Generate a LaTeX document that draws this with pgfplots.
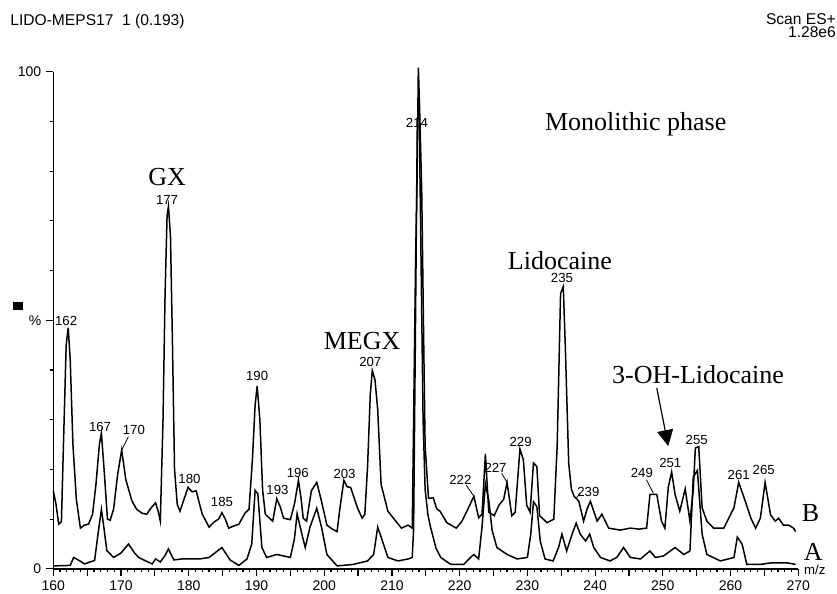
\documentclass[border=0pt]{standalone}
\usepackage{fontspec}
\setmainfont{Liberation Sans}
\newfontfamily\annotfont{Liberation Serif}
\usepackage{pgfplots}
\pgfplotsset{compat=1.18}
\usetikzlibrary{arrows.meta}
\begin{document}
\begin{tikzpicture}[
  pk/.style={font=\fontsize{6.6}{7}\selectfont, inner sep=0pt},
  big/.style={font=\annotfont\fontsize{13}{14}\selectfont, inner sep=0pt},
  lead/.style={line width=0.4pt},
  trace/.style={black, line width=0.75pt, no markers},
]
\begin{axis}[
  name=ax,
  scale only axis,
  width=372.5pt, height=248.6pt,
  xmin=160, xmax=270, ymin=0, ymax=100,
  clip=false,
  axis x line*=bottom, axis y line*=left,
  axis line style={line width=0.75pt},
  tick align=outside,
  xtick={160,170,...,270},
  extra x ticks={165,175,...,265},
  extra x tick labels={},
  minor x tick num=9,
  ytick={0,50,100},
  yticklabels={0,\%,100},
  minor y tick num=4,
  major tick length=3.5pt, minor tick length=1.8pt,
  tick style={black, line width=0.6pt},
  ticklabel style={font=\fontsize{7}{8}\selectfont},
  xticklabel style={yshift=1pt},
  yticklabel style={xshift=1pt},
  /pgf/number format/assume math mode=true,
  /pgf/number format/1000 sep={},
]
% trace B
\addplot[trace] coordinates {
(160,15.7) (160.4,13) (160.8,9) (161.2,9.5) (161.5,25) (161.9,45) (162.2,48.5) (162.5,42) (162.9,25) (163.4,14) (164,8.2) (164.6,8.8) (165.2,9) (165.8,11) (166.3,17) (166.8,25) (167.1,27.3) (167.5,20) (168,10) (168.4,9.8) (168.9,12) (169.5,19) (170.1,23.9) (170.7,18) (171.6,13.7) (172.3,12) (173.1,11.2) (173.8,11) (174.4,12.2) (175.1,13.3) (175.5,11.5) (175.8,9.6) (176.2,30) (176.5,55) (176.8,71) (177.0,72.9) (177.3,67) (177.6,45) (177.9,20) (178.3,13) (178.7,11.6) (179.3,14) (179.9,16.4) (180.5,15.5) (181.1,15.7) (181.6,13) (182,11) (183,8.4) (183.8,9.5) (184.4,10) (184.9,11.3) (185.4,10) (185.9,8.2) (186.6,8.6) (187.4,9.0) (188.3,11.2) (188.9,12) (189.4,22) (189.8,33) (190.1,36.8) (190.5,30) (190.9,16) (191.3,11) (192.4,9.6) (193,14.1) (193.5,12.5) (194,10.2) (195,9.9) (195.6,13) (196.2,17.8) (196.6,14) (196.9,10.2) (197.4,9.6) (198.1,15.7) (198.9,17.4) (199.6,13.6) (200.4,8.8) (201.2,8) (201.9,7.5) (202.3,12) (202.9,17.8) (203.4,16.5) (203.9,16.4) (204.9,12.3) (205.6,10.2) (206,11) (206.4,20.5) (206.8,35) (207.1,39.9) (207.5,38) (207.9,32) (208.4,17) (209.4,11.6) (210.4,9.9) (211.4,8.2) (212.4,8.8) (213,8.2)
(213.2,29.8) (213.5,62.8) (213.7,77.3) (213.9,100.8) (214.1,92) (214.4,75.9) (214.7,44.7) (214.9,24.8) (215.4,14.2) (216.1,14.3) (216.6,12.1) (217.1,11.6) (218.1,9.3) (219.5,8.2) (220.3,9.5) (221.1,11.7) (222.1,14.6) (222.8,10.3) (223.3,11) (223.8,23.1) (224.3,11.4) (225.1,10.7) (225.8,12.8) (226.5,14) (227,17.4) (227.7,10.7) (228.2,11.4) (228.9,24.1) (229.4,22) (229.9,12.8) (230.4,11.4) (230.9,21.3) (231.4,20.6) (231.8,10.7) (232.9,9.3) (233.9,10) (234.4,24.8) (234.9,55.4) (235.3,56.8) (235.6,44.7) (236.1,21.3) (236.5,16) (236.9,14.6)
(237.6,13.6) (238.3,9.6) (238.8,12) (239.3,13.6) (240.3,9.6) (241,11) (242,8.2) (243.7,7.8) (245.2,8.2) (246.5,8) (247.6,8.2) (248.1,15) (249.1,15) (249.8,9.6) (250.3,8.2) (250.8,16.4) (251.3,19.5) (251.8,15) (252.5,11.6) (253.3,16.1) (254,9.6) (254.5,16) (254.8,24.3) (255.3,24.6) (255.8,12.3) (256.5,9.6) (257.5,8.2) (259,8.2) (260.5,12.3) (261.2,17.4) (262,14.3) (263,10.2) (263.7,8.2) (264.4,10.2) (265.1,17.4) (265.9,10.9) (266.6,9.6) (267.1,10.2) (267.8,8.8) (268.6,8.8) (269.3,8.2) (269.6,7.5)
};
% trace A
\addplot[trace] coordinates {
(160,0.6) (162.5,0.7) (163,2.3) (163.8,1.7) (164.6,1) (166.1,1.7) (166.6,7) (167.1,12) (167.5,8) (167.9,3.7) (168.9,2.3) (170,3.2) (171.1,5) (172,3.2) (172.6,2.3) (173.5,1.7) (174.6,1) (175.1,2) (175.8,1.4) (176.5,2.7) (177,4) (177.8,1.8) (179,2) (181.6,2) (183,2.3) (184.9,4.3) (186.1,1.8) (187.4,0.7) (188.6,2) (189.3,5) (189.8,15.8) (190.2,15.1) (190.8,4.3) (191.5,2.3) (193,2.9) (195,2.3) (195.6,6) (196,11.1) (196.7,7) (197.2,4.3) (197.9,8.4) (198.9,12.2) (199.6,8.4) (200.4,2.9) (201.9,0.6) (204.3,0.9) (206.4,1.6) (207.3,2.9) (207.9,8.4) (208.6,5.6) (209.4,2.3) (210.9,1.6) (212.4,2) (213,2.3)
(213.2,8) (213.45,45) (213.75,90) (214.0,94) (214.3,62) (214.6,30) (214.9,16) (215.3,11) (215.7,8.4) (216.5,4.2) (217.2,2.3) (218.7,0.9) (220.6,0.9) (221.6,2.3) (222.1,2.9) (222.8,2) (223.3,8.4) (223.8,17.1) (224.3,13.8) (224.8,7.7) (225.5,4.3) (227,2.9) (228.5,2) (230,2.3) (230.5,7) (230.9,13.5) (231.4,12.5) (231.9,5.6) (232.6,2) (233.8,1.6) (234.6,4.3) (235.1,7) (235.8,3.6) (236.6,7) (237.2,9.2) (237.8,7) (238.6,5.6) (239.2,7) (239.8,4.3) (240.8,2.3) (242.2,1.6) (243.2,2.3) (244.2,4.3) (245.2,2.3) (246.7,2) (248.1,3.6) (248.9,2.3) (250.1,2.6) (251.8,4.3) (253.1,2.9) (254,3.6) (254.5,18.5) (255.1,19.8) (255.8,7) (256.5,2.9) (258.5,1.6) (260.5,2.3) (261,6.4) (261.7,5) (262.4,0.9) (264.4,0.9) (265.9,1.2) (268.4,1.2) (269.6,0.9)
};
% header texts
\node[anchor=west, font=\fontsize{7.8}{9}\selectfont, inner sep=0pt] at (axis cs:153.6,110.1) {LIDO-MEPS17\ \ 1 (0.193)};
\node[anchor=east, font=\fontsize{7.8}{9}\selectfont, inner sep=0pt] at (axis cs:275.6,110.5) {Scan ES+};
\node[anchor=east, font=\fontsize{7.8}{9}\selectfont, inner sep=0pt] at (axis cs:275.6,107.9) {1.28e6};
\fill (axis cs:154.8,52.8) +(-2.5pt,-2pt) rectangle +(2.5pt,2pt);
\node[anchor=west, font=\fontsize{6.6}{7}\selectfont, inner sep=0pt] at (axis cs:270.8,-0.2) {m/z};
% compound names
\node[big] at (axis cs:246,89.5) {Monolithic phase};
\node[big] at (axis cs:176.8,78.8) {GX};
\node[big] at (axis cs:205.6,45.8) {MEGX};
\node[big] at (axis cs:234.8,62.1) {Lidocaine};
\node[big] at (axis cs:255.2,39.1) {3-OH-Lidocaine};
\node[big] at (axis cs:271.8,11.2) {B};
\node[big] at (axis cs:272.2,3.5) {A};
\draw[line width=0.6pt, -{Triangle[length=8pt,width=8pt]}] (axis cs:249.1,36.4) -- (axis cs:250.8,24.7);
% peak labels
\node[pk] at (axis cs:161.9,49.8) {162};
\node[pk] at (axis cs:166.9,28.6) {167};
\node[pk] at (axis cs:171.9,28.0) {170};
\draw[lead] (axis cs:170.1,23.9) -- (axis cs:171.1,26.6);
\node[pk] at (axis cs:176.8,74.2) {177};
\node[pk] at (axis cs:180.1,18.1) {180};
\node[pk] at (axis cs:184.9,13.4) {185};
\node[pk] at (axis cs:190.1,38.9) {190};
\node[pk] at (axis cs:193.1,15.8) {193};
\node[pk] at (axis cs:196.1,19.3) {196};
\node[pk] at (axis cs:203.0,19.1) {203};
\node[pk] at (axis cs:206.8,41.7) {207};
\node[pk] at (axis cs:213.7,89.8) {214};
\node[pk] at (axis cs:220.1,18.0) {222};
\draw[lead] (axis cs:221.0,16.8) -- (axis cs:222.1,14.6);
\node[pk] at (axis cs:225.3,20.3) {227};
\draw[lead] (axis cs:226.2,19.2) -- (axis cs:227.0,17.4);
\node[pk] at (axis cs:229.0,25.6) {229};
\node[pk] at (axis cs:235.1,58.5) {235};
\node[pk] at (axis cs:239.0,15.4) {239};
\draw[lead] (axis cs:237.2,14.2) -- (axis cs:237.8,15.2);
\node[pk] at (axis cs:246.9,19.2) {249};
\draw[lead] (axis cs:247.6,17.9) -- (axis cs:248.6,15.2);
\node[pk] at (axis cs:251.1,21.3) {251};
\node[pk] at (axis cs:255.0,25.9) {255};
\node[pk] at (axis cs:261.2,18.9) {261};
\node[pk] at (axis cs:264.9,19.9) {265};
\end{axis}
\pgfresetboundingbox
\path ([shift={(-26.65pt,-12.5pt)}]ax.south west) rectangle ([shift={(19.35pt,35.85pt)}]ax.north east);
\end{tikzpicture}
\end{document}
